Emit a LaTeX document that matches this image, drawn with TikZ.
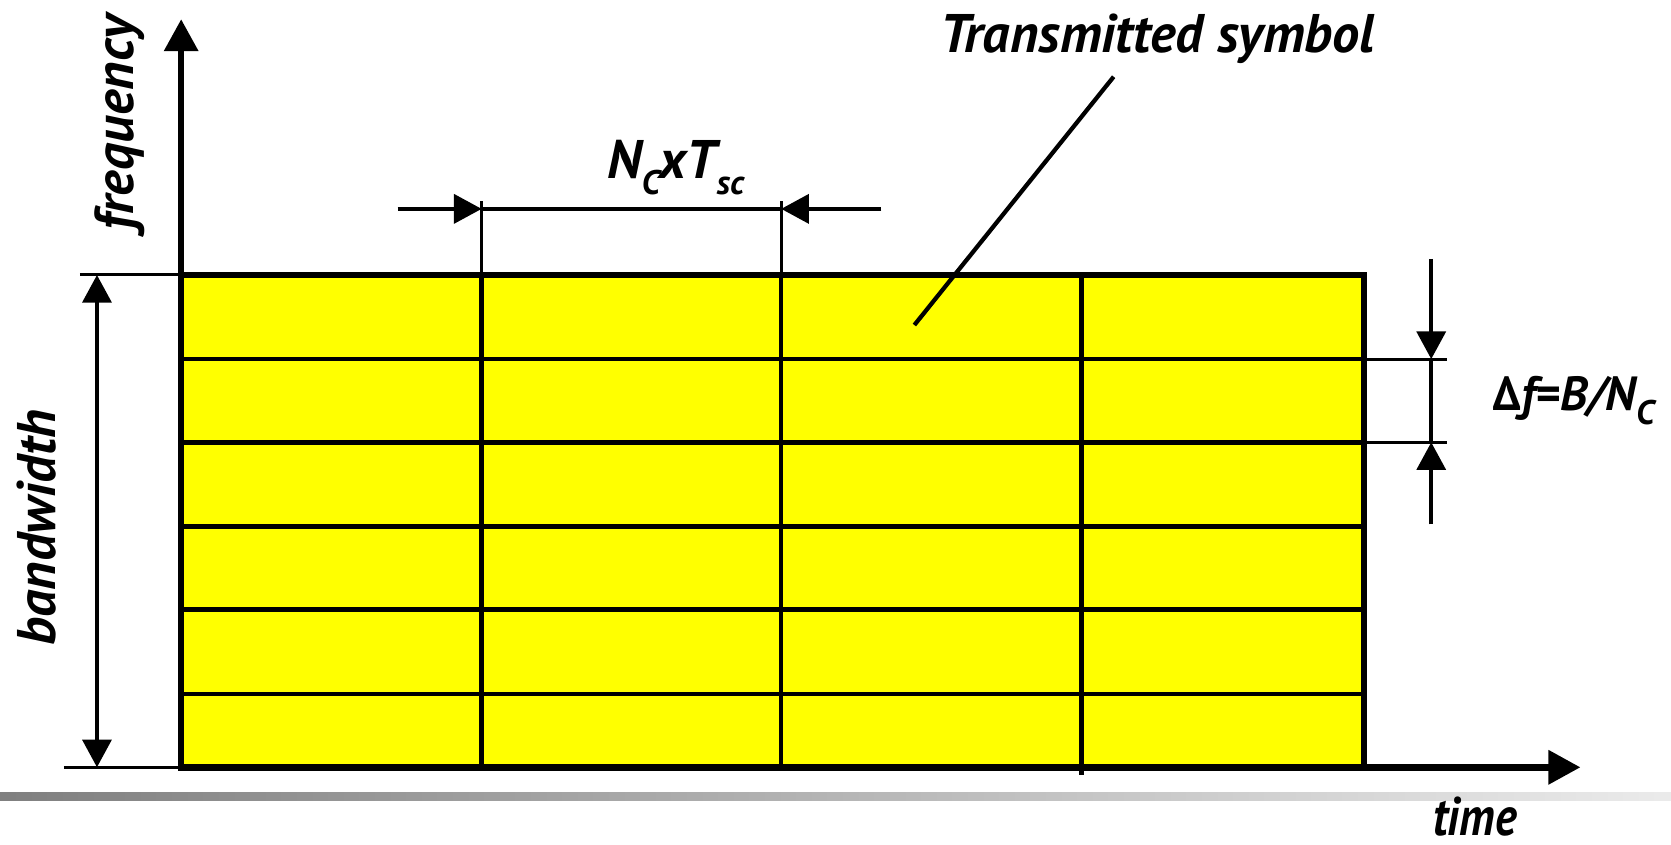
\documentclass[tikz,border=0pt]{standalone}
\usepackage{fontspec}
\setmainfont{PT Sans}
\usetikzlibrary{arrows.meta}
\definecolor{cellyellow}{RGB}{255,255,0}
\newcommand{\lowidx}[1]{\raisebox{-0.3em}{\fontsize{32}{36}\selectfont #1}}
\begin{document}
\begin{tikzpicture}[x=1pt,y=-1pt,
  lbl/.style={font=\fontsize{51}{60}\selectfont\bfseries\itshape, inner sep=0pt},
  gridline/.style={line width=4.2pt},
  thinline/.style={line width=2.8pt},
  dimline/.style={line width=4pt},
  axisline/.style={line width=6pt},
  bigtip/.style={-{Triangle[length=30pt,width=31pt]}},
  dimtip/.style={-{Triangle[length=26pt,width=27pt]}}]
\useasboundingbox (0,0) rectangle (1568,792);

% footer rule with grey gradient
\shade[left color=black!50, right color=black!8] (0,744) rectangle (1568,751);

% time-frequency grid of transmitted symbols
\fill[cellyellow] (170,258) rectangle (1280,720);
\foreach \y in {337,415,494,572,651}
  \draw[gridline] (170,\y) -- (1280,\y);
\foreach \x in {452,733}
  \draw[gridline] (\x,258) -- (\x,720);
\draw[gridline] (1015,258) -- (1015,727);
\draw[gridline, line width=5pt] (170,258) -- (1280,258) -- (1280,720);

% axes
\coordinate (origin) at (170,720);
\coordinate (ftop) at (170,18);
\coordinate (tend) at (1483,720);
\draw[axisline, bigtip] (170,723) -- (ftop);
\draw[axisline, bigtip] (167,720) -- (tend);

% bandwidth dimension
\coordinate (bwtop) at (75,258);
\coordinate (bwbot) at (60,720);
\coordinate (gridtl) at (170,258);
\draw[thinline] (bwtop) -- (gridtl);
\draw[thinline] (bwbot) -- (origin);
\coordinate (bwa) at (91,258);
\coordinate (bwb) at (91,720);
\draw[dimline, {Triangle[length=26pt,width=27pt]}-{Triangle[length=26pt,width=27pt]}] (bwa) -- (bwb);

% symbol duration dimension
\coordinate (t1) at (452,196);
\coordinate (t2) at (733,196);
\coordinate (tl) at (373,196);
\coordinate (tr) at (827,196);
\draw[thinline] (452,189) -- (452,258);
\draw[thinline] (733,189) -- (733,258);
\draw[dimline, dimtip] (tl) -- (t1);
\draw[dimline] (t1) -- (t2);
\draw[dimline, dimtip] (tr) -- (t2);

% subcarrier spacing dimension
\coordinate (s1) at (1343,337);
\coordinate (s2) at (1343,415);
\coordinate (su) at (1343,243);
\coordinate (sd) at (1343,492);
\draw[thinline] (1280,337) -- (1358,337);
\draw[thinline] (1280,415) -- (1358,415);
\draw[dimline, dimtip] (su) -- (s1);
\draw[dimline] (s1) -- (s2);
\draw[dimline, dimtip] (sd) -- (s2);

% labels
\node[lbl] (symlabel) at (1086,36) {Transmitted symbol};
\coordinate (leadend) at (858,305);
\draw[dimline] (1045,72) -- (leadend);
\node[lbl, rotate=90] (freqlabel) at (112,115) {frequency};
\node[lbl, rotate=90] (bwlabel) at (34,495) {bandwidth};
\node[lbl] (durlabel) at (634,157) {N\lowidx{C}xT\lowidx{sc}};
\node[lbl, font=\fontsize{45}{54}\selectfont\bfseries\itshape] (spclabel) at (1477,376) {Δf=B/N\lowidx{C}};
\node[lbl, anchor=base, xscale=0.85] (timelabel) at (1384,784) {time};
\end{tikzpicture}
\end{document}
